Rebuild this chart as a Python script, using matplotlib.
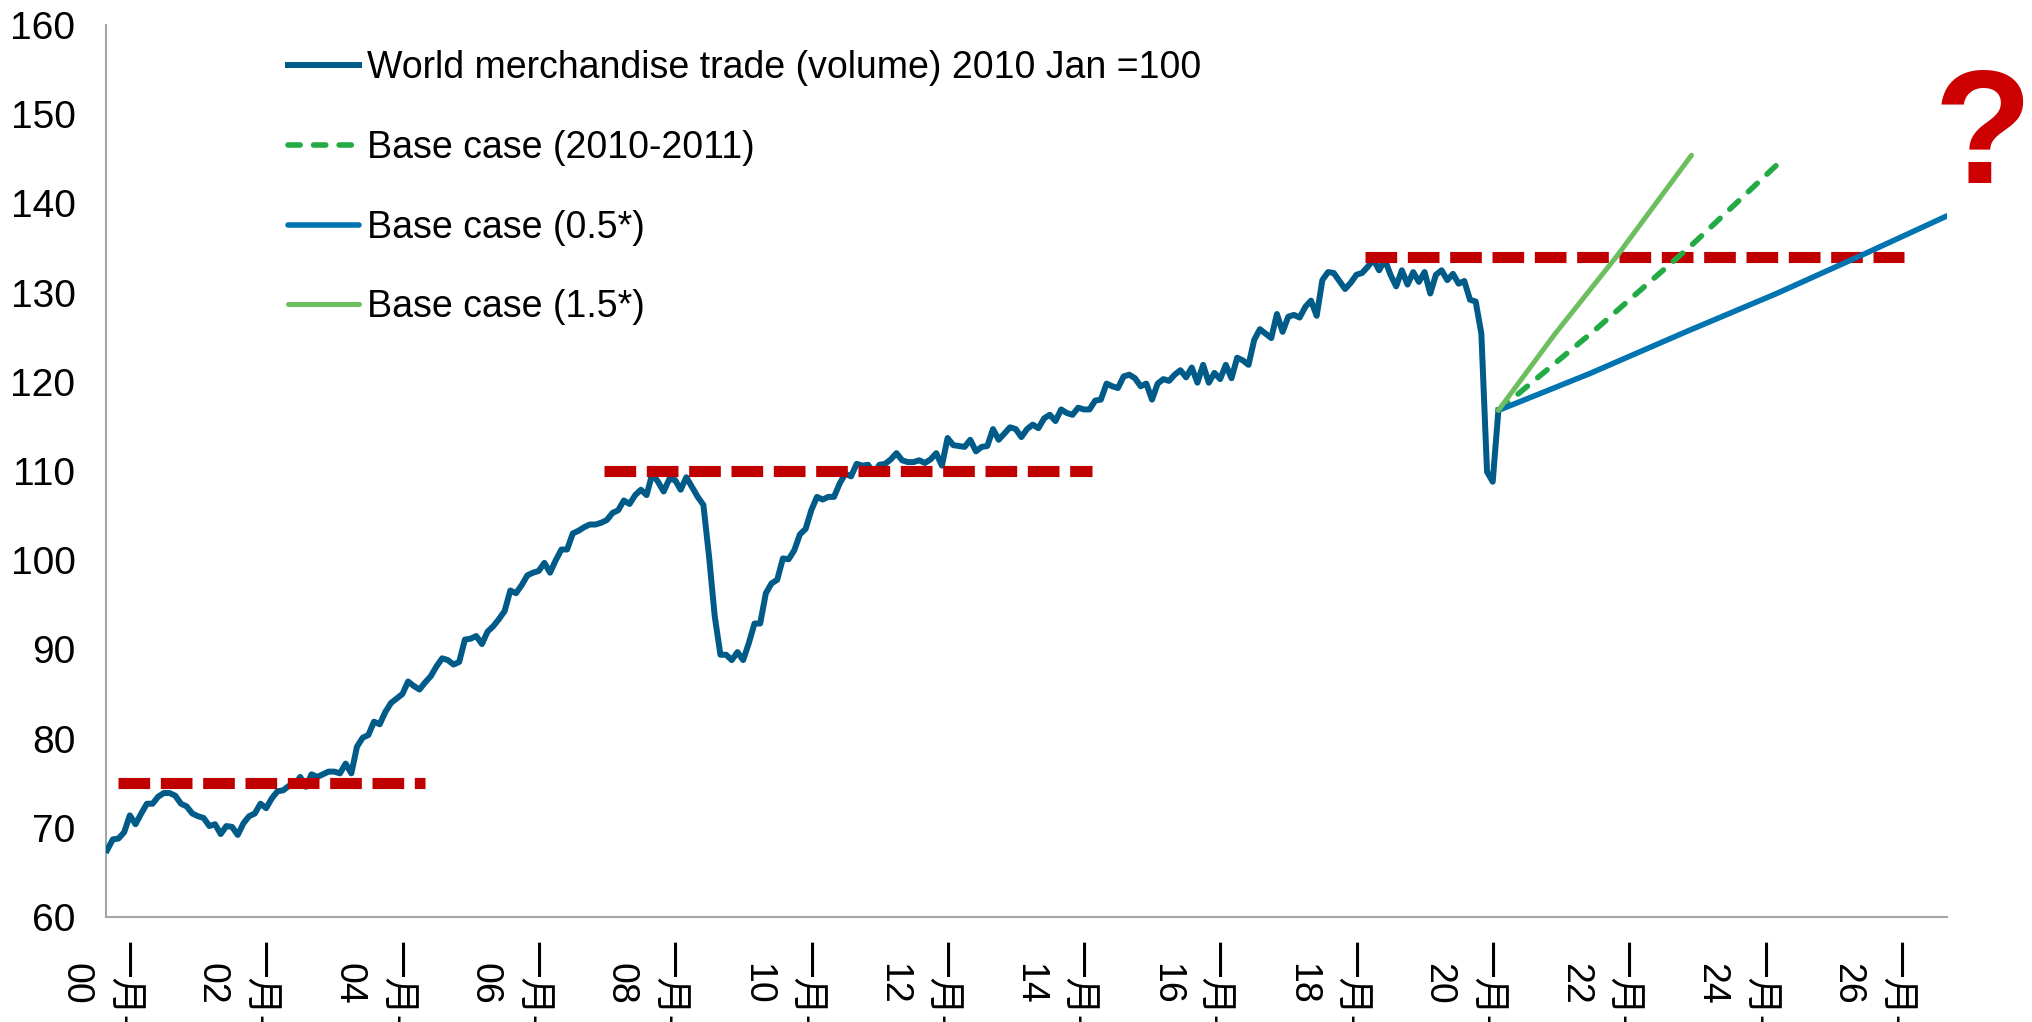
import matplotlib
matplotlib.use("Agg")
import matplotlib.pyplot as plt
from matplotlib.transforms import ScaledTranslation

plt.rcParams['font.family'] = ['Liberation Sans', 'Noto Sans CJK SC', 'DejaVu Sans']

# ---- data (months counted from Jan 2000) ----
trade_month = list(range(0, 150)) + list(range(151, 246))
trade_value = [
    67.5, 68.7, 68.8, 69.5, 71.4, 70.4, 71.6, 72.7, 72.7, 73.5,
    73.9, 73.9, 73.6, 72.7, 72.4, 71.6, 71.3, 71.1, 70.2, 70.4,
    69.3, 70.2, 70.1, 69.2, 70.5, 71.3, 71.6, 72.7, 72.2, 73.3,
    74.1, 74.2, 74.7, 74.8, 75.7, 74.6, 76.0, 75.7, 76.0, 76.3,
    76.3, 76.1, 77.2, 76.1, 79.1, 80.1, 80.4, 81.9, 81.6,
    83.0, 84.0, 84.5, 85.0, 86.4, 85.9, 85.5, 86.3, 87.0, 88.1,
    89.0, 88.8, 88.3, 88.6, 91.1, 91.2, 91.5, 90.6, 92.0, 92.6,
    93.4, 94.3, 96.6, 96.3, 97.2, 98.3, 98.6, 98.8, 99.7, 98.6,
    100.0, 101.2, 101.2, 103.0, 103.3, 103.7, 104.0, 104.0, 104.2, 104.5,
    105.3, 105.6, 106.7, 106.3, 107.3, 107.9, 107.3, 109.7, 108.8, 107.7,
    109.1, 109.0, 107.9, 109.3, 108.2, 107.1, 106.2, 100.4, 93.7, 89.4,
    89.4, 88.8, 89.7, 88.8, 90.7, 92.9, 92.9, 96.3, 97.4, 97.8,
    100.2, 100.1, 101.1, 102.9, 103.5, 105.6, 107.1, 106.8, 107.1, 107.1,
    108.6, 109.7, 109.4, 110.8, 110.6, 110.7, 109.7, 110.7, 110.8, 111.3,
    112.0, 111.2, 111.0, 111.0, 111.2, 110.9, 111.3, 112.0, 110.6, 113.7,
    112.9,
    112.7, 113.5, 112.2, 112.7, 112.8, 114.7, 113.5, 114.2, 114.9, 114.7,
    113.8, 114.7, 115.2, 114.8, 115.9, 116.3, 115.6, 116.9, 116.5, 116.3,
    117.1, 116.9, 116.9, 117.9, 118.0, 119.8, 119.5, 119.3, 120.6, 120.8,
    120.4, 119.5, 119.8, 118.0, 119.8, 120.3, 120.1, 120.8, 121.3, 120.5,
    121.6, 119.9, 121.9, 119.9, 121.0, 120.3, 121.9, 120.4, 122.7, 122.4,
    121.9, 124.7, 125.9, 125.4, 124.9, 127.6, 125.6, 127.3, 127.5, 127.2,
    128.4, 129.1, 127.4, 131.4, 132.3, 132.2, 131.3, 130.4, 131.1, 132.0,
    132.2, 132.9, 133.7, 132.5, 133.7, 132.0, 130.7, 132.5, 130.9, 132.3,
    131.2, 132.3, 129.9, 132.0, 132.5, 131.4, 132.1, 131.0, 131.3, 129.2,
    129.0, 125.4, 109.9, 108.8, 116.8,
]

base_month = [245, 262, 279, 295]
base_value = [116.8, 125.8, 135.3, 144.9]

half_month = [245, 261, 278, 294, 309, 324]
half_value = [116.8, 120.9, 125.6, 129.9, 134.2, 138.6]

onehalf_month = [245, 255, 266, 279]
onehalf_value = [116.8, 125.4, 134.2, 145.4]

# previous peaks (level, first month, last month)
peak_level = [75, 110, 134]
peak_start = [2, 87.5, 221.5]
peak_end = [56, 173.5, 316.5]

tick_years = list(range(0, 27, 2))
tick_labels = [f"一月-\n{y:02d}" for y in tick_years]

labels = ["World merchandise trade (volume) 2010 Jan =100",
          "Base case (2010-2011)",
          "Base case (0.5*)",
          "Base case (1.5*)"]

# ---- figure ----
fig = plt.figure(figsize=(20.33, 10.22), dpi=100)
ax = fig.add_axes([106 / 2033, 1 - 917 / 1022, 1841 / 2033, 892 / 1022])

ax.plot(trade_month, trade_value, color="#005B88", lw=4.3,
        solid_joinstyle="round", zorder=3, label=labels[0])
ax.plot(base_month, base_value, color="#22AA44", lw=4.0, dashes=(2.2, 2.4),
        dash_capstyle="round", zorder=5, label=labels[1])
ax.plot(half_month, half_value, color="#0074B0", lw=4.0, zorder=5,
        solid_capstyle="round", label=labels[2])
ax.plot(onehalf_month, onehalf_value, color="#6CBE5F", lw=3.6, zorder=6,
        solid_capstyle="round", label=labels[3])

for lev, a, b in zip(peak_level, peak_start, peak_end):
    ax.plot([a, b], [lev, lev], color="#C00000", lw=8, dashes=(2.85, 0.96),
            dash_capstyle="butt", zorder=4)

ax.set_xlim(-0.2, 324)
ax.set_ylim(60, 160)
ax.set_yticks(range(60, 161, 10))
ax.set_xticks([y * 12 for y in tick_years])
ax.set_xticklabels(tick_labels, rotation=-90, ha="center", va="top",
                   multialignment="center", fontsize=27, linespacing=1.4)
ax.tick_params(axis="y", length=0, labelsize=28, pad=22)
ax.tick_params(axis="x", length=0, pad=17)

# nudge the date labels a little to the left, as in the original
shift = ScaledTranslation(-8 / 100, 0, fig.dpi_scale_trans)
for lab in ax.get_xticklabels():
    lab.set_transform(lab.get_transform() + shift)

for s in ["top", "right"]:
    ax.spines[s].set_visible(False)
for s in ["left", "bottom"]:
    ax.spines[s].set_color("#A6A6A6")
    ax.spines[s].set_linewidth(1.5)

leg = ax.legend(loc="upper left", bbox_to_anchor=(0.0989, 0.9715), frameon=False,
                fontsize=27, handlelength=1.89, handletextpad=0.21,
                labelspacing=1.165, borderpad=0, borderaxespad=0)

fig.text(1983 / 2033, 1 - 183 / 1022, "?", color="#CC0000", fontsize=116,
         fontweight="bold", ha="center", va="baseline")

fig.savefig("out.png", dpi=100)
